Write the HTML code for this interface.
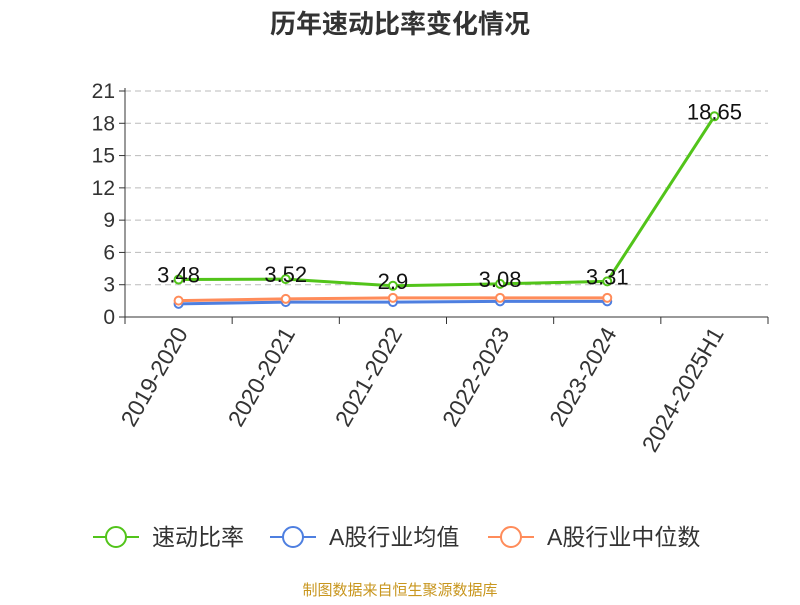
<!DOCTYPE html>
<html><head><meta charset="utf-8"><style>
body{margin:0;background:#fff;font-family:"Liberation Sans","Noto Sans CJK SC",sans-serif}
</style></head><body>
<svg id="c" width="800" height="600" xmlns="http://www.w3.org/2000/svg" font-family="Liberation Sans, Noto Sans CJK SC, sans-serif">
<text x="400" y="33" text-anchor="middle" font-size="26" font-weight="bold" fill="#333">历年速动比率变化情况</text>
<g id="grid"></g><g id="axes"></g><g id="series"></g>
<g>
<g><line x1="93" y1="537" x2="139" y2="537" stroke="#52c41a" stroke-width="2"/><circle cx="116" cy="537" r="10" fill="#fff" stroke="#52c41a" stroke-width="2"/><text x="152" y="545" font-size="23" fill="#333">速动比率</text></g>
<g><line x1="270" y1="537" x2="316" y2="537" stroke="#4e7fe0" stroke-width="2"/><circle cx="293" cy="537" r="10" fill="#fff" stroke="#4e7fe0" stroke-width="2"/><text x="329" y="545" font-size="23" fill="#333">A股行业均值</text></g>
<g><line x1="488" y1="537" x2="534" y2="537" stroke="#ff8c5a" stroke-width="2"/><circle cx="511" cy="537" r="10" fill="#fff" stroke="#ff8c5a" stroke-width="2"/><text x="547" y="545" font-size="23" fill="#333">A股行业中位数</text></g>
</g>
<text x="400" y="595" text-anchor="middle" font-size="15" fill="#c8961e">制图数据来自恒生聚源数据库</text>
</svg>
<script>
const categories=["2019-2020","2020-2021","2021-2022","2022-2023","2023-2024","2024-2025H1"];
const quickRatio=[3.48,3.52,2.9,3.08,3.31,18.65];
const industryMean=[1.22,1.38,1.38,1.45,1.45,null];
const industryMedian=[1.52,1.68,1.78,1.78,1.78,null];
const yTicks=[0,3,6,9,12,15,18,21];
const NS="http://www.w3.org/2000/svg";
const x0=125,x1=768,y0=317,y1=91,yMax=21;
const bw=(x1-x0)/categories.length;
const X=i=>x0+bw*(i+0.5);
const Y=v=>y0-(v/yMax)*(y0-y1);
function mk(tag,attrs,parent){const e=document.createElementNS(NS,tag);for(const k in attrs)e.setAttribute(k,attrs[k]);parent.appendChild(e);return e;}
const grid=document.getElementById('grid'),axes=document.getElementById('axes'),ser=document.getElementById('series');
yTicks.forEach(t=>{
 if(t>0){const l=mk('line',{x1:x0,x2:x1,y1:Y(t),y2:Y(t),stroke:'#bbb','stroke-dasharray':'6,4'},grid);
 
 }
 mk('line',{x1:x0-6,x2:x0,y1:Y(t),y2:Y(t),stroke:'#333'},axes);
 const tx=mk('text',{x:x0-10,y:Y(t)+7,'text-anchor':'end','font-size':21,fill:'#333'},axes);tx.textContent=t;
 
 
});
mk('line',{x1:x0,x2:x0,y1:y1-3,y2:y0,stroke:'#333'},axes);
mk('line',{x1:x0,x2:x1,y1:y0,y2:y0,stroke:'#333'},axes);
categories.forEach((c,i)=>{
 mk('line',{x1:x0+bw*i,x2:x0+bw*i,y1:y0,y2:y0+7,stroke:'#333'},axes);
 if(i==categories.length-1)mk('line',{x1:x1,x2:x1,y1:y0,y2:y0+7,stroke:'#333'},axes);
 const ax=X(i)+10,ay=y0+16;
 const tx=mk('text',{x:ax,y:ay,'text-anchor':'end','font-size':23,fill:'#333',transform:`rotate(-60 ${ax} ${ay})`},axes);tx.textContent=c;
 
 
});
function line(vals,color,name,labels){
 const g=mk('g',{},ser);
 
 
 const pts=vals.map((v,i)=>v==null?null:[X(i),Y(v)]).filter(p=>p);
 mk('polyline',{points:pts.map(p=>p.join(',')).join(' '),fill:'none',stroke:color,'stroke-width':3},g);
 vals.forEach((v,i)=>{if(v==null)return;
  const c=mk('circle',{cx:X(i),cy:Y(v),r:4,fill:'#fff',stroke:color,'stroke-width':2},g);
  
  
  if(labels){const t=mk('text',{x:X(i),y:Y(v)+3,'text-anchor':'middle','font-size':22,fill:'#111'},g);t.textContent=v;
  
  }
 });
}
line(industryMean,'#4e7fe0','industry-mean-series',false);
line(industryMedian,'#ff8c5a','industry-median-series',false);
line(quickRatio,'#52c41a','quick-ratio-series',true);
</script>
</body></html>
